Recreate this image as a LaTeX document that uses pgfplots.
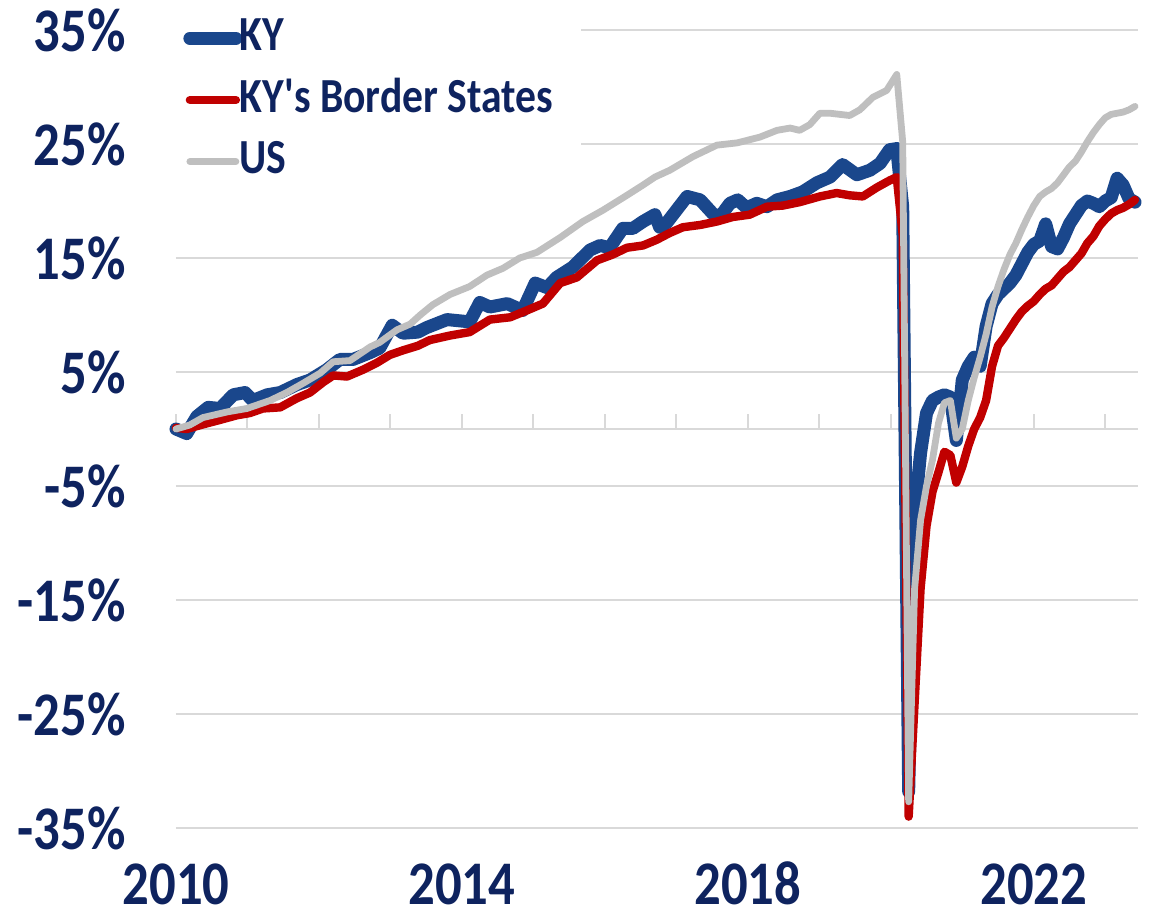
\documentclass[border=0pt]{standalone}
\usepackage{pgfplots}
\usepackage{pgfplotstable}
\pgfplotsset{compat=1.18}
\usepackage{fontspec}
\setmainfont{Carlito}[FakeStretch=0.85]
\newfontfamily\calfont{Carlito}[FakeStretch=0.85]
\definecolor{navy}{HTML}{0E235F}
\definecolor{kyblue}{HTML}{1A478C}
\definecolor{bred}{HTML}{C00000}
\definecolor{usgray}{HTML}{BFBFBF}
\definecolor{gridgray}{HTML}{D9D9D9}

\pgfplotstableread{
m v
0 0.0
1.8 -0.4
3.5 1.1
5.4 1.9
7.4 1.8
9.6 3.0
11.6 3.2
12.9 2.5
15.3 3.0
17.5 3.2
20.3 3.9
22.5 4.3
25.3 5.2
27.5 6.1
29.7 6.1
32.6 6.7
34.2 7.1
36.3 9.1
38.1 8.4
40.6 8.5
42.1 8.9
45.5 9.6
49.3 9.4
51.0 11.1
52.7 10.7
55.6 11.0
58.2 10.4
60.3 12.8
62.3 12.4
63.9 13.3
66.6 14.2
69.5 15.7
71.2 16.1
72.8 15.9
75.0 17.6
76.7 17.6
78.4 18.2
80.4 18.8
81.2 17.7
82.4 18.1
85.8 20.4
88.0 20.1
90.1 18.9
91.3 18.6
93.0 19.8
94.3 20.1
95.8 19.4
97.5 19.8
99.2 19.5
100.9 20.1
103.1 20.4
105.2 20.8
107.6 21.6
109.8 22.1
111.9 23.2
114.3 22.3
116.5 22.7
118.2 23.3
119.8 24.5
121 24.6
122 19.5
123 -31.8
124 -7.5
125 -2.1
126 1.4
127 2.5
128 2.8
129 3.0
130 2.8
131 -1.0
132 4.3
133 5.5
134 6.3
135 5.5
136 9.0
137 11.0
138 11.8
139 12.3
140 12.8
141 13.5
142 14.5
143 15.5
144 16.2
145 16.5
146 18.0
147 16.0
148 15.8
149 16.8
150 18.0
151 18.8
152 19.6
153 20.0
154 19.8
155 19.5
156 20.0
157 20.3
158 22.0
159 21.4
160 20.2
161 19.9
}\kydata

\pgfplotstableread{
m v
0 0.1
1.8 0.0
4.5 0.4
7.4 0.8
10.2 1.2
12.4 1.4
14.6 1.8
17.5 1.9
20.3 2.7
22.5 3.2
24.7 4.1
26.4 4.7
28.7 4.6
31.4 5.2
33.7 5.8
35.9 6.5
38.1 6.9
40.6 7.3
42.6 7.8
46.0 8.2
49.3 8.5
52.7 9.6
56.1 9.8
58.9 10.4
61.6 11.0
64.5 12.8
67.3 13.3
70.7 14.8
73.3 15.3
75.7 15.9
78.4 16.1
80.7 16.6
82.9 17.2
85.1 17.7
88.0 17.9
90.8 18.2
93.5 18.6
96.3 18.8
99.2 19.5
101.9 19.6
104.7 19.9
108.1 20.4
110.9 20.7
113.1 20.5
115.3 20.4
117.7 21.2
119.8 21.8
121 22.1
122 17.0
123 -34.0
124 -24
125 -14
126 -8.5
127 -5.5
128 -3.8
129 -2.0
130 -2.3
131 -4.7
132 -3.3
133 -1.5
134 0.0
135 1.0
136 2.5
137 5.5
138 7.3
139 8.0
140 8.8
141 9.6
142 10.3
143 10.8
144 11.2
145 11.8
146 12.3
147 12.6
148 13.2
149 13.8
150 14.2
151 14.8
152 15.4
153 16.3
154 16.9
155 17.8
156 18.4
157 18.9
158 19.2
159 19.4
160 19.7
161 20.1
}\bsdata

\pgfplotstableread{
m v
0 0.0
2.3 0.35
4.5 1.0
8.6 1.5
11.9 1.8
15.8 2.5
18.6 3.2
21.3 4.0
24.2 4.9
26.4 5.9
29.2 6.0
32.6 7.2
34.2 7.6
37.1 8.7
39.3 9.2
41.0 10.0
43.1 10.9
46.0 11.8
49.3 12.5
52.2 13.5
54.9 14.1
57.7 15.0
60.6 15.5
64.5 16.8
68.3 18.2
71.7 19.2
75.7 20.5
78.4 21.4
80.4 22.1
82.9 22.7
86.8 23.9
90.8 24.9
94.2 25.1
98.0 25.6
100.9 26.2
103.1 26.4
104.7 26.2
106.4 26.7
108.1 27.7
109.8 27.7
113.1 27.5
114.8 28.0
117.0 29.1
119.3 29.7
121 31.1
122 25.2
123 -32.7
124 -14
125 -8
126 -5
127 -2.7
128 0.5
129 2.3
130 2.5
131 -0.8
132 0.0
133 2.5
134 4.5
135 6.3
136 8.3
137 10.7
138 12.5
139 14.0
140 15.3
141 16.3
142 17.5
143 18.6
144 19.6
145 20.4
146 20.8
147 21.1
148 21.6
149 22.3
150 23.0
151 23.5
152 24.3
153 25.2
154 26.0
155 26.7
156 27.3
157 27.6
158 27.7
159 27.8
160 28.0
161 28.3
}\usdata

\begin{document}
\begin{tikzpicture}
% zero line with yearly ticks
\begin{axis}[
  at={(0pt,199.5pt)}, anchor=south west,
  scale only axis, width=481pt, height=199.5pt,
  xmin=0, xmax=161.5, ymin=0, ymax=1,
  axis x line*=bottom, axis y line=none,
  xtick={0,12,...,156}, xticklabels={},
  xtick align=inside, major tick length=7.5pt,
  x axis line style={draw=gridgray, line width=1pt},
  xtick style={draw=gridgray, line width=1pt},
]
\end{axis}
\begin{axis}[
  at={(0pt,0pt)}, anchor=south west,
  scale only axis, width=481pt, height=399pt,
  xmin=0, xmax=161.5, ymin=-35, ymax=35,
  clip=false,
  axis line style={draw=none},
  major tick length=0pt,
  xtick={0,48,96,144}, xticklabels={2010,2014,2018,2022},
  ytick={-35,-25,-15,-5,5,15,25,35},
  yticklabels={-35\%,-25\%,-15\%,-5\%,5\%,15\%,25\%,35\%},
  ymajorgrids,
  grid style={draw=gridgray, line width=1pt},
  tick label style={font=\calfont\fontsize{31}{31}\selectfont\bfseries, text=navy},
  xticklabel style={anchor=base, yshift=-38pt, inner sep=0pt, text depth=0pt},
  yticklabel style={anchor=east, inner sep=0pt, xshift=-25pt},
  legend cell align=left,
  legend style={at={(axis description cs:0,1)}, anchor=north west,
    xshift=-10.5pt, yshift=7pt,
    draw=none, fill=white, inner xsep=14pt, inner ysep=0pt,
    font=\calfont\fontsize{24.5}{24.5}\selectfont\bfseries, text=navy,
    nodes={inner xsep=0pt, inner ysep=0pt, text height=17pt, text depth=5pt},
    row sep=8.8pt,
    /tikz/every odd column/.append style={column sep=-1.5pt}},
  legend image code/.code={\draw[#1, line cap=round] (0pt,0pt) -- (23pt,0pt);},
  no markers,
]
\addplot[kyblue, line width=6.5pt, line join=round, line cap=round] table[x=m,y=v] {\kydata};
\addlegendentry{KY}
\addplot[bred, line width=4.2pt, line join=round, line cap=round] table[x=m,y=v] {\bsdata};
\addlegendentry{KY's Border States}
\addplot[usgray, line width=3.4pt, line join=round, line cap=round] table[x=m,y=v] {\usdata};
\addlegendentry{US}
\end{axis}
\pgfresetboundingbox
\path[use as bounding box] (-88pt,-45pt) rectangle (488.5pt,414pt);
\end{tikzpicture}
\end{document}
